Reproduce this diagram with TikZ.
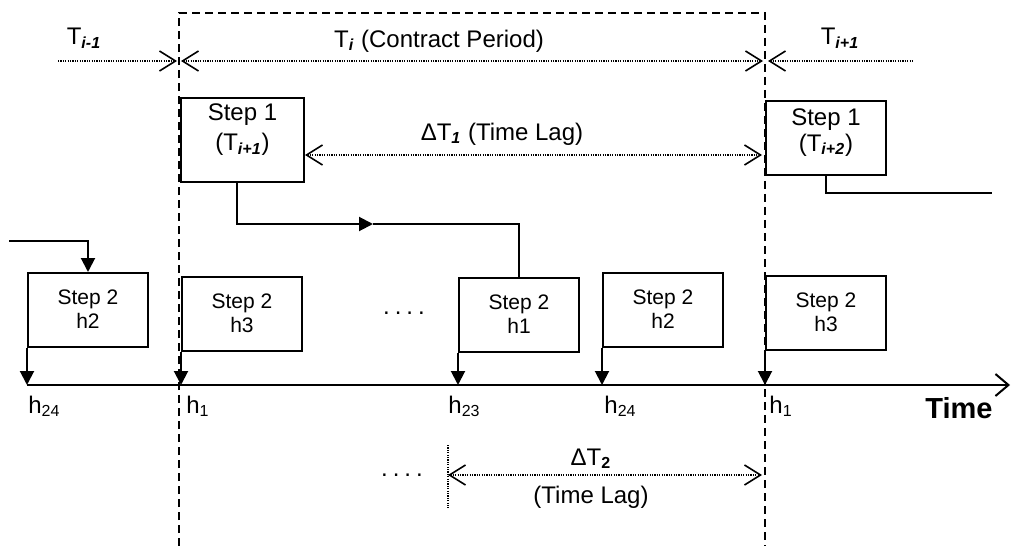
\documentclass[tikz,border=0pt]{standalone}
\usepackage{fontspec}
\setmainfont{Liberation Sans}
\usetikzlibrary{arrows.meta}

\begin{document}
\begin{tikzpicture}[x=0.5pt,y=-0.5pt,>={Straight Barb[length=8pt,width=10pt,line width=0.8pt]},
    every node/.style={font=\fontsize{12}{14}\selectfont},
    stepbox/.style={draw,line width=1pt,inner sep=0pt,align=center,minimum width=60pt,anchor=north west,
      font=\fontsize{10.5}{12}\selectfont,text height=27.5pt,text depth=9.5pt},
    lbl/.style={anchor=base}, hlbl/.style={anchor=base west,inner sep=0pt},
    flow/.style={line width=1pt,-{Triangle[length=7pt,width=7pt]}},
    wire/.style={line width=1pt},
    period/.style={line width=0.6pt,dash pattern=on 0.6pt off 0.6pt},
    frame/.style={line width=1pt,dash pattern=on 4pt off 2.5pt}]

\useasboundingbox (0,0) rectangle (1013,546);

\draw[frame] (179,546) -- (179,13) -- (765,13) -- (765,546);

\node[stepbox,font=\fontsize{12}{14}\selectfont,text height=26.25pt,text depth=15.75pt,minimum width=61.5pt] (s1a) at (180,97) {Step 1\\[1pt](T\textsubscript{\textbf{\textit{i+1}}})};
\node[stepbox,font=\fontsize{12}{13}\selectfont,text height=25pt,text depth=12pt] (s1b) at (765,100) {Step 1\\(T\textsubscript{\textbf{\textit{i+2}}})};
\node[stepbox] (sA) at (27,272)  {Step 2\\h2};
\node[stepbox] (sB) at (181,276) {Step 2\\h3};
\node[stepbox] (sC) at (458,277) {Step 2\\h1};
\node[stepbox] (sD) at (602,272) {Step 2\\h2};
\node[stepbox] (sE) at (765,275) {Step 2\\h3};

\coordinate (t0) at (27,385);
\coordinate (tend) at (1010,385);
\coordinate (in) at (9,241);
\coordinate (m1) at (373,224);
\coordinate (out) at (992,193);

\draw[line width=1.3pt,-{Straight Barb[length=6.5pt,width=11pt,line width=1pt]}] (t0) -- (tend);
\foreach \b in {sA,sB,sC,sD,sE}
  \draw[flow] (\b.south west) -- (\b.south west |- t0);

\draw[flow] (in) -| (sA.north);
\draw[flow] ([xshift=-3pt]s1a.south) |- (m1);
\draw[wire] (m1) -| (sC.north);
\draw[wire] (s1b.south) |- (out);

\coordinate (p0) at (58,61);
\coordinate (p1) at (177,61);
\coordinate (p2) at (181,61);
\coordinate (p3) at (763,61);
\coordinate (p4) at (768,61);
\coordinate (p5) at (912,61);
\draw[period,->] (p0) -- (p1);
\draw[period,<->] (p2) -- (p3);
\draw[period,<-] (p4) -- (p5);

\coordinate (l1) at (762,155);
\draw[period,<->] (s1a.east |- l1) -- (l1);

\coordinate (l2a) at (448,445);
\coordinate (l2b) at (448,508);
\coordinate (l2r) at (762,475);
\draw[period] (l2a) -- (l2b);
\draw[period,<->] (l2a |- l2r) -- (l2r);

\node[lbl] (ti1) at (84,45) {T\textsubscript{\textbf{\textit{i-1}}}};
\node[lbl] (ti)  at (439,47) {T\textsubscript{\textbf{\textit{i}}} (Contract Period)};
\node[lbl] (ti2) at (840,45) {T\textsubscript{\textbf{\textit{i+1}}}};
\node[lbl] (dt1) at (502,140) {ΔT\textsubscript{\textbf{\textit{1}}} (Time Lag)};
\node (dots1) at (404,313) {.\kern2.5pt.\kern2.5pt.\kern2.5pt.};
\node (dots2) at (402,475) {.\kern2.5pt.\kern2.5pt.\kern2.5pt.};
\node[lbl] (dt2) at (591,465) {ΔT\textsubscript{\textbf{2}}};
\node[lbl] (tl2) at (591,503) {(Time Lag)};

\node[hlbl] (h24a) at (28,413)  {h\textsubscript{24}};
\node[hlbl] (h1a)  at (186,413) {h\textsubscript{1}};
\node[hlbl] (h23)  at (448,413) {h\textsubscript{23}};
\node[hlbl] (h24b) at (604,413) {h\textsubscript{24}};
\node[hlbl] (h1b)  at (769,413) {h\textsubscript{1}};
\node[lbl,font=\fontsize{14.5}{17}\selectfont\bfseries] (time) at (959,418) {Time};
\end{tikzpicture}
\end{document}
